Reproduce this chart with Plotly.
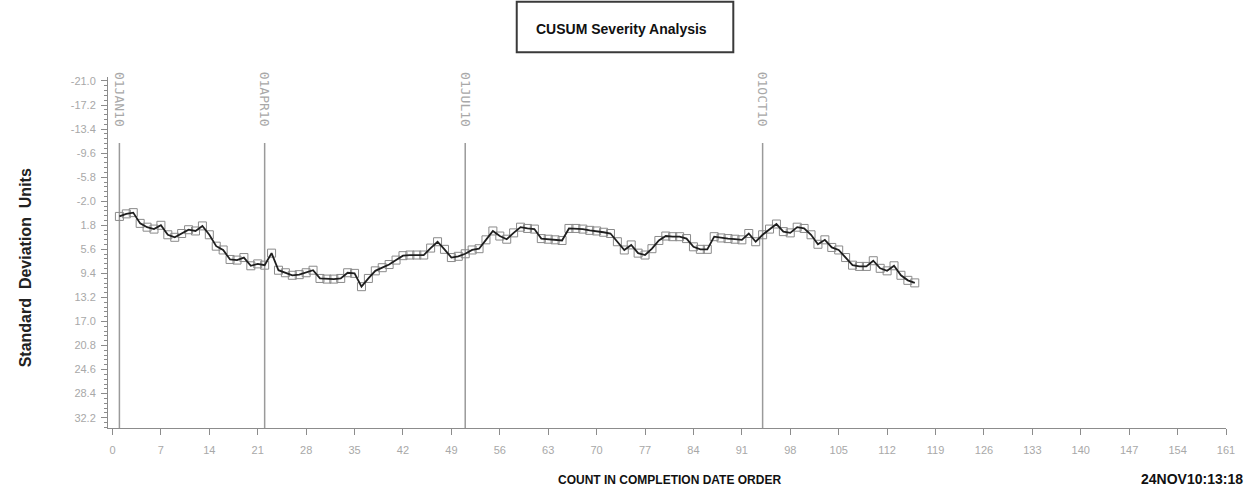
import plotly.graph_objects as go

# CUSUM values (standard deviation units) by count in completion-date order
count = list(range(1, 117))
cusum = [
    0.4, 0.0, -0.2, 1.5, 2.1, 2.4, 1.8, 3.3, 3.7, 3.1,
    2.5, 2.7, 1.9, 3.3, 5.1, 5.7, 7.2, 7.3, 6.9, 8.2,
    7.9, 8.1, 6.2, 8.9, 9.3, 9.7, 9.6, 9.3, 8.9, 10.2,
    10.3, 10.3, 10.2, 9.3, 9.4, 11.5, 10.2, 9.0, 8.5, 8.0,
    7.3, 6.6, 6.5, 6.5, 6.5, 5.4, 4.4, 5.6, 6.9, 6.7,
    6.3, 5.7, 5.5, 4.1, 2.7, 3.5, 4.0, 3.0, 2.1, 2.3,
    2.4, 3.9, 4.0, 4.1, 4.2, 2.3, 2.3, 2.4, 2.6, 2.7,
    2.9, 3.1, 4.4, 5.7, 4.9, 6.2, 6.5, 5.5, 4.2, 3.5,
    3.6, 3.6, 3.9, 5.2, 5.6, 5.6, 3.6, 3.8, 3.9, 4.0,
    4.1, 3.1, 4.4, 3.3, 2.4, 1.6, 2.8, 3.0, 2.1, 2.3,
    3.3, 4.8, 4.1, 5.3, 5.7, 6.9, 8.1, 8.3, 8.3, 7.4,
    8.6, 9.0, 8.2, 9.7, 10.5, 10.9,
]

# Quarter reference lines
ref_counts = [1, 22, 51, 94]
ref_labels = ["01JAN10", "01APR10", "01JUL10", "01OCT10"]

x_tick_vals = [0, 7, 14, 21, 28, 35, 42, 49, 56, 63, 70, 77, 84, 91, 98,
               105, 112, 119, 126, 133, 140, 147, 154, 161]
x_tick_text = [str(v) for v in x_tick_vals]
y_tick_vals = [-21.0, -17.2, -13.4, -9.6, -5.8, -2.0, 1.8, 5.6, 9.4,
               13.2, 17.0, 20.8, 24.6, 28.4, 32.2]
y_tick_text = ["%.1f" % v for v in y_tick_vals]

SANS = "Liberation Sans, Arial, sans-serif"
AXIS_GREY = "#8c8c8c"
LABEL_GREY = "#a8a8a8"

fig = go.Figure()

# open square markers sit under the line
fig.add_trace(go.Scatter(
    x=count, y=cusum, mode="markers",
    marker=dict(symbol="square-open", size=8, color="#8a8a8a",
                line=dict(width=1, color="#8a8a8a")),
    hoverinfo="skip", showlegend=False,
))
fig.add_trace(go.Scatter(
    x=count, y=cusum, mode="lines",
    line=dict(color="#1e1e1e", width=1.8),
    showlegend=False,
))

y_bottom, y_top = 33.83, -21.63

for xc, lab in zip(ref_counts, ref_labels):
    fig.add_shape(type="line", xref="x", yref="y", x0=xc, x1=xc,
                  y0=-11.2, y1=y_bottom,
                  line=dict(color="#9a9a9a", width=1.5), layer="below")
    fig.add_annotation(x=xc, y=-18.1, xref="x", yref="y", text=lab,
                       textangle=90, showarrow=False,
                       xanchor="center", yanchor="middle",
                       font=dict(family="DejaVu Sans Mono", size=13,
                                 color=LABEL_GREY))

# boxed title
fig.add_shape(type="rect", xref="paper", yref="paper",
              x0=0.3656, x1=0.5593, y0=1.0704, y1=1.2145,
              line=dict(color="#3a3a3a", width=2), fillcolor="white")
fig.add_annotation(x=0.4595, y=1.1359, xref="paper", yref="paper",
                   xanchor="center", yanchor="middle",
                   text="<b>CUSUM Severity Analysis</b>", showarrow=False,
                   font=dict(family=SANS, size=14, color="#111111"))

fig.add_annotation(x=-0.0742, y=0.455, xref="paper", yref="paper",
                   xanchor="center", yanchor="middle",
                   text="<b>Standard  Deviation  Units</b>", textangle=-90,
                   showarrow=False,
                   font=dict(family=SANS, size=16, color="#222222"))

fig.add_annotation(x=0.5018, y=-0.148, xref="paper", yref="paper",
                   xanchor="center", yanchor="middle",
                   text="<b>COUNT IN COMPLETION DATE ORDER</b>",
                   showarrow=False,
                   font=dict(family=SANS, size=12, color="#111111"))

fig.add_annotation(x=1.017, y=-0.145, xref="paper", yref="paper",
                   xanchor="right", yanchor="middle",
                   text="<b>24NOV10:13:18</b>", showarrow=False,
                   font=dict(family=SANS, size=14, color="#111111"))

fig.update_layout(
    width=1246, height=493,
    margin=dict(l=108, r=20, t=77, b=65),
    plot_bgcolor="white", paper_bgcolor="white",
    showlegend=False,
    xaxis=dict(
        range=[-0.65, 161.0], tickvals=x_tick_vals, ticktext=x_tick_text,
        showline=True, linecolor=AXIS_GREY, linewidth=1,
        ticks="outside", ticklen=6, tickcolor=AXIS_GREY,
        showgrid=False, zeroline=False, ticklabelstandoff=6,
        tickfont=dict(family=SANS, size=11, color=LABEL_GREY),
    ),
    yaxis=dict(
        range=[y_bottom, y_top], tickvals=y_tick_vals, ticktext=y_tick_text,
        showline=True, linecolor=AXIS_GREY, linewidth=1,
        ticks="outside", ticklen=6, tickcolor=AXIS_GREY,
        minor=dict(ticks="outside", ticklen=3, tick0=-21.0, dtick=0.76,
                   tickcolor=AXIS_GREY, showgrid=False),
        showgrid=False, zeroline=False, ticklabelstandoff=3,
        tickfont=dict(family=SANS, size=11, color=LABEL_GREY),
    ),
)

fig.write_html("out.html")
